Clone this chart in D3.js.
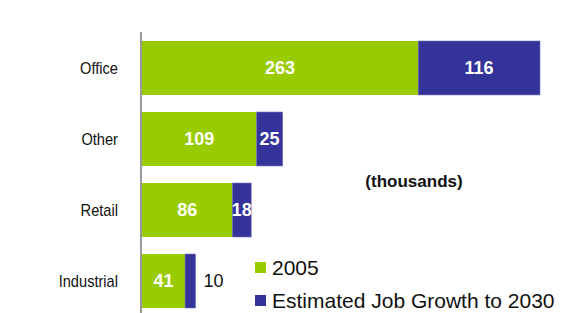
<!DOCTYPE html>
<html>
<head>
<meta charset="utf-8">
<script src="https://cdn.jsdelivr.net/npm/d3@7"></script>
<style>
  body { margin: 0; background: #fff; }
  text { font-family: "Liberation Sans", Arial, sans-serif; }
</style>
</head>
<body>
<svg></svg>
<script>
var categories = ["Office", "Other", "Retail", "Industrial"];
var jobs2005 = [263, 109, 86, 41];
var growth2030 = [116, 25, 18, 10];
var seriesNames = ["2005", "Estimated Job Growth to 2030"];

var width = 588,
  height = 313;

var green = "#99cc00",
  blue = "#333399";

var svg = d3.select("svg").attr("width", width).attr("height", height);

var x = d3.scaleLinear().domain([0, 379]).range([142, 540]);

var y = d3
  .scaleBand()
  .domain(categories)
  .range([41, 308])
  .paddingInner(0.24)
  .paddingOuter(0);

var rows = categories.map(function (c, i) {
  return { cat: c, a: jobs2005[i], b: growth2030[i] };
});

function narrow(d) {
  return x(d.a + d.b) - x(d.a) < 16;
}

// green segments
svg
  .selectAll(".bar2005")
  .data(rows)
  .join("rect")
  .attr("class", "bar2005")
  .attr("x", x(0))
  .attr("y", function (d) { return y(d.cat); })
  .attr("width", function (d) { return x(d.a) - x(0); })
  .attr("height", y.bandwidth())
  .attr("fill", green);

// blue segments
svg
  .selectAll(".barGrowth")
  .data(rows)
  .join("rect")
  .attr("class", "barGrowth")
  .attr("x", function (d) { return x(d.a); })
  .attr("y", function (d) { return y(d.cat); })
  .attr("width", function (d) { return x(d.a + d.b) - x(d.a); })
  .attr("height", y.bandwidth())
  .attr("fill", blue)
  .attr("stroke", "#7777bb")
  .attr("stroke-width", 0.6);

// axis line
svg
  .append("line")
  .attr("x1", 141)
  .attr("x2", 141)
  .attr("y1", 32)
  .attr("y2", height)
  .attr("stroke", "#808080")
  .attr("stroke-width", 1.6);

// category labels (condensed look)
svg
  .selectAll(".cat")
  .data(rows)
  .join("text")
  .attr("class", "cat")
  .attr("x", 118)
  .attr("y", function (d) { return y(d.cat) + y.bandwidth() / 2; })
  .attr("dy", "0.35em")
  .attr("text-anchor", "end")
  .attr("font-size", "17px")
  .attr("fill", "#111")
  .text(function (d) { return d.cat; })
  .each(function () {
    var w = this.getComputedTextLength();
    d3.select(this)
      .attr("textLength", w * 0.86)
      .attr("lengthAdjust", "spacingAndGlyphs");
  });

// value labels on green
svg
  .selectAll(".valA")
  .data(rows)
  .join("text")
  .attr("class", "valA")
  .attr("x", function (d) { return (x(0) + x(d.a)) / 2; })
  .attr("y", function (d) { return y(d.cat) + y.bandwidth() / 2; })
  .attr("dy", "0.36em")
  .attr("text-anchor", "middle")
  .attr("font-size", "18px")
  .attr("font-weight", "bold")
  .attr("fill", "#fff")
  .text(function (d) { return d.a; });

// value labels on blue (outside when too narrow)
svg
  .selectAll(".valB")
  .data(rows)
  .join("text")
  .attr("class", "valB")
  .attr("x", function (d) {
    return narrow(d) ? x(d.a + d.b) + 8 : (x(d.a) + x(d.a + d.b)) / 2;
  })
  .attr("y", function (d) { return y(d.cat) + y.bandwidth() / 2; })
  .attr("dy", "0.36em")
  .attr("text-anchor", function (d) { return narrow(d) ? "start" : "middle"; })
  .attr("font-size", "18px")
  .attr("font-weight", function (d) { return narrow(d) ? "normal" : "bold"; })
  .attr("fill", function (d) { return narrow(d) ? "#111" : "#fff"; })
  .text(function (d) { return d.b; });

// units note
svg
  .append("text")
  .attr("x", 414)
  .attr("y", 187)
  .attr("text-anchor", "middle")
  .attr("font-size", "17px")
  .attr("font-weight", "bold")
  .attr("fill", "#111")
  .text("(thousands)");

// legend
var legend = svg
  .selectAll(".legend")
  .data(seriesNames)
  .join("g")
  .attr("class", "legend")
  .attr("transform", function (d, i) {
    return "translate(255," + (262 + i * 33) + ")";
  });

legend
  .append("rect")
  .attr("width", 11)
  .attr("height", 11)
  .attr("fill", function (d, i) { return i === 0 ? green : blue; });

legend
  .append("text")
  .attr("x", 17)
  .attr("y", 5.5)
  .attr("dy", "0.36em")
  .attr("font-size", "21px")
  .attr("fill", "#111")
  .text(function (d) { return d; });
</script>
</body>
</html>
